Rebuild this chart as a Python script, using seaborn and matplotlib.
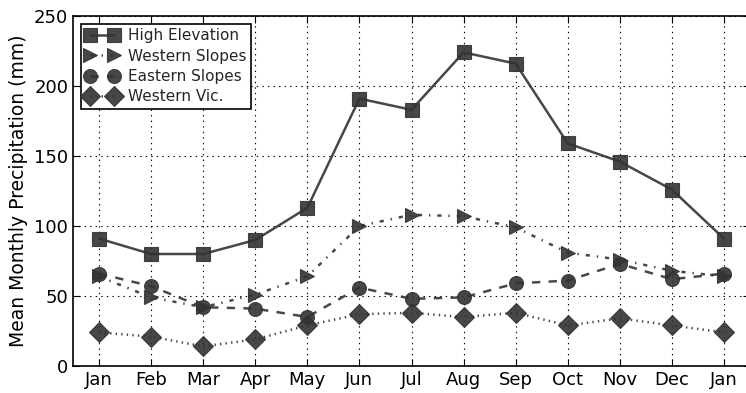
import matplotlib
matplotlib.use("Agg")
import matplotlib.pyplot as plt
import seaborn as sns
import numpy as np

months = ["Jan", "Feb", "Mar", "Apr", "May", "Jun", "Jul", "Aug", "Sep", "Oct", "Nov", "Dec", "Jan"]
high_elevation = [91, 80, 80, 90, 113, 191, 183, 224, 216, 159, 146, 126, 91]
western_slopes = [64, 49, 42, 51, 64, 100, 108, 107, 99, 81, 76, 68, 64]
eastern_slopes = [66, 57, 42, 41, 35, 56, 48, 49, 59, 61, 73, 62, 66]
western_vic = [24, 21, 14, 19, 29, 37, 38, 35, 38, 29, 34, 29, 24]

series = [
    ("High Elevation", high_elevation, "s", "-"),
    ("Western Slopes", western_slopes, ">", "-."),
    ("Eastern Slopes", eastern_slopes, "o", "--"),
    ("Western Vic.", western_vic, "D", ":"),
]

sns.set_style("ticks")
plt.rcParams['font.family'] = ['DejaVu Sans']
plt.rcParams['lines.scale_dashes'] = False
plt.rcParams['lines.dashed_pattern'] = [6, 6]
plt.rcParams['lines.dashdot_pattern'] = [3, 5, 1, 5]
plt.rcParams['lines.dotted_pattern'] = [1, 3]

fig = plt.figure(figsize=(7.46, 3.93), dpi=100)
ax = fig.add_axes([73/746, 1 - 366/393, (750 - 73)/746, (366 - 16)/393])

x = np.arange(len(months))
col = "#333333"
for name, vals, mk, ls in series:
    sns.lineplot(x=x, y=vals, ax=ax, label=name, marker=mk, linestyle=ls,
                 color=col, alpha=0.9, linewidth=1.8, markersize=10,
                 markeredgecolor=col, markeredgewidth=0.8, clip_on=False)

ax.set_xlim(-0.5, 12.5)
ax.set_ylim(0, 250)
ax.set_xticks(x)
ax.set_xticklabels(months)
ax.set_yticks([0, 50, 100, 150, 200, 250])
ax.tick_params(direction="in", top=True, right=True, labelsize=13, length=5,
               color="black", labelcolor="black")
ax.grid(True, linestyle=(0, (1, 3)), color="black", linewidth=0.8)
for s in ax.spines.values():
    s.set_color("black")
    s.set_linewidth(1.2)
ax.set_ylabel("Mean Monthly Precipitation (mm)", fontsize=13.5, color="black")
ax.set_xlabel("")

leg = ax.legend(loc="upper left", numpoints=2, fontsize=11, frameon=True,
                fancybox=False, borderaxespad=0.5, handlelength=2.2,
                labelspacing=0.35, handletextpad=0.6, borderpad=0.3)
leg.get_frame().set_edgecolor("black")
leg.get_frame().set_linewidth(1.2)
leg.get_frame().set_alpha(1)

fig.savefig("out.png", dpi=100)
